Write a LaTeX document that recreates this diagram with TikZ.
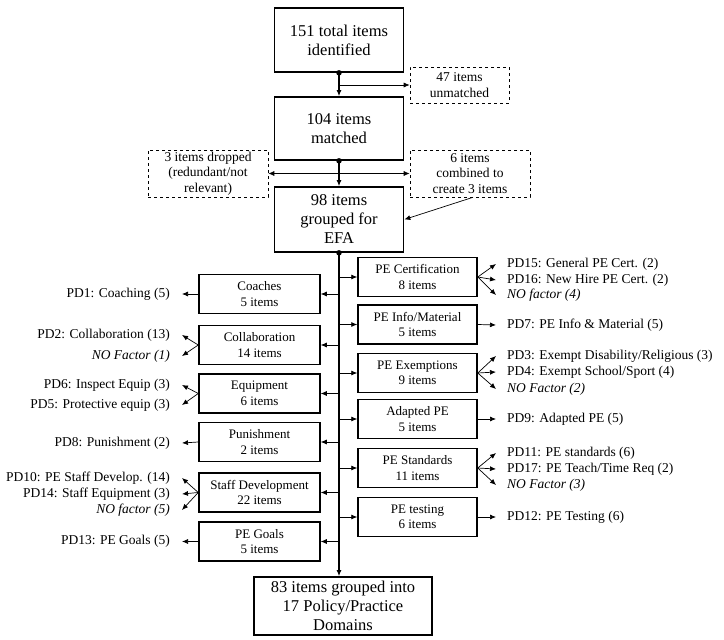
\documentclass[tikz,border=0pt]{standalone}
\usepackage{fontspec}
\setmainfont{Liberation Serif}
\usetikzlibrary{arrows.meta}
\begin{document}
\begin{tikzpicture}[x=1pt,y=-1pt,
 big/.style={draw, line width=1.6pt, minimum width=129pt, align=center, font=\fontsize{16.5}{19}\selectfont, inner sep=0pt},
 dbox/.style={draw, dashed, line width=0.6pt, align=center, font=\fontsize{13.5}{15.5}\selectfont, inner sep=0pt},
 cat/.style={draw, line width=1.5pt, minimum height=39pt, align=center, font=\fontsize{13}{15.5}\selectfont, inner sep=0pt},
 lab/.style={font=\fontsize{13.5}{15}\selectfont, inner sep=0pt},
 arr/.style={-{Latex[length=6pt,width=5pt]}, line width=0.7pt},
 thk/.style={-{Latex[length=6pt,width=5pt]}, line width=1.5pt},
 dot/.style={circle, fill, inner sep=0pt, minimum size=5.5pt}
]
\useasboundingbox (0,0) rectangle (724,640);
% main column
\node[big, minimum height=64pt] (b1) at (339,40) {151 total items\\identified};
\node[big, minimum height=63pt] (b2) at (339,128.5) {104 items\\matched};
\node[big, minimum height=65pt] (b3) at (339,219.5) {98 items\\grouped for\\EFA};
\node[big, minimum width=178pt, minimum height=58pt] (b4) at (343,606) {83 items grouped into\\17 Policy/Practice\\Domains};
% dashed boxes
\node[dbox, minimum width=99pt, minimum height=36pt] (um) at (459.5,85) {47 items\\unmatched};
\node[dbox, minimum width=120pt, minimum height=47pt] (dr) at (208,173.5) {3 items dropped\\(redundant/not\\relevant)};
\node[dbox, minimum width=120pt, minimum height=47pt] (cb) at (470,173.5) {6 items\\combined to\\create 3 items};
% main arrows
\draw[thk] (b1.south) -- (b2.north);
\draw[thk] (b2.south) -- (b3.north);
\draw[thk] (b3.south) -- (b3.south |- b4.north);
\coordinate (j1) at (339,85);
\coordinate (j2) at (339,173.5);
\draw[arr] (j1) -- (um.west);
\draw[arr] (j2) -- (dr.east);
\draw[arr] (j2) -- (cb.west);
\draw[arr] ([xshift=3pt]cb.south) -- (b3.east);
\node[dot] (d1) at (b1.south) {};
\node[dot] (d2) at (b2.south) {};
\node[dot] (d3) at (b3.south) {};
% left categories
\node[cat, minimum width=121pt] (c1) at (259.5,294) {Coaches\\5 items};
\node[cat, minimum width=121pt] (c2) at (259.5,345) {Collaboration\\14 items};
\node[cat, minimum width=121pt] (c3) at (259.5,393.5) {Equipment\\6 items};
\node[cat, minimum width=121pt] (c4) at (259.5,442) {Punishment\\2 items};
\node[cat, minimum width=121pt] (c5) at (259.5,492.5) {Staff Development\\22 items};
\node[cat, minimum width=121pt] (c6) at (259.5,541.5) {PE Goals\\5 items};
\foreach \c in {c1,c2,c3,c4,c5,c6} {\draw[arr] (\c.east -| b3.south) -- (\c.east);}
% right categories
\node[cat, minimum width=119pt] (r1) at (417.5,277) {PE Certification\\8 items};
\node[cat, minimum width=119pt] (r2) at (417.5,324.5) {PE Info/Material\\5 items};
\node[cat, minimum width=119pt] (r3) at (417.5,373) {PE Exemptions\\9 items};
\node[cat, minimum width=119pt] (r4) at (417.5,419) {Adapted PE\\5 items};
\node[cat, minimum width=119pt] (r5) at (417.5,468) {PE Standards\\11 items};
\node[cat, minimum width=119pt] (r6) at (417.5,517) {PE testing\\6 items};
\foreach \c in {r1,r2,r3,r4,r5,r6} {\draw[arr] (\c.west -| b3.south) -- (\c.west);}
% left labels
\node[lab, anchor=east] (l1) at (170,294) {PD1: Coaching (5)};
\node[lab, anchor=east] (l2a) at (170,335) {PD2: Collaboration (13)};
\node[lab, anchor=east] (l2b) at (170,356) {\itshape NO Factor (1)};
\node[lab, anchor=east] (l3a) at (170,385) {PD6: Inspect Equip (3)};
\node[lab, anchor=east] (l3b) at (170,405) {PD5: Protective equip (3)};
\node[lab, anchor=east] (l4) at (170,443) {PD8: Punishment (2)};
\node[lab, anchor=east] (l5a) at (170,478) {PD10: PE Staff Develop. (14)};
\node[lab, anchor=east] (l5b) at (170,494) {PD14: Staff Equipment (3)};
\node[lab, anchor=east] (l5c) at (170,510) {\itshape NO factor (5)};
\node[lab, anchor=east] (l6) at (170,541.5) {PD13: PE Goals (5)};
\draw[arr] (c1.west) -- ([xshift=12pt]l1.east);
\draw[arr] (c2.west) -- ([xshift=12pt]l2a.east);
\draw[arr] (c2.west) -- ([xshift=12pt]l2b.east);
\draw[arr] (c3.west) -- ([xshift=12pt]l3a.east);
\draw[arr] (c3.west) -- ([xshift=12pt]l3b.east);
\draw[arr] (c4.west) -- ([xshift=12pt]l4.east);
\draw[arr] (c5.west) -- ([xshift=12pt]l5a.east);
\draw[arr] (c5.west) -- ([xshift=12pt]l5b.east);
\draw[arr] (c5.west) -- ([xshift=12pt]l5c.east);
\draw[arr] (c6.west) -- ([xshift=12pt]l6.east);
% right labels
\node[lab, anchor=west] (q1a) at (507,264) {PD15: General PE Cert. (2)};
\node[lab, anchor=west] (q1b) at (507,280) {PD16: New Hire PE Cert. (2)};
\node[lab, anchor=west] (q1c) at (507,295) {\itshape NO factor (4)};
\node[lab, anchor=west] (q2) at (507,325) {PD7: PE Info \& Material (5)};
\node[lab, anchor=west] (q3a) at (507,356) {PD3: Exempt Disability/Religious (3)};
\node[lab, anchor=west] (q3b) at (507,372) {PD4: Exempt School/Sport (4)};
\node[lab, anchor=west] (q3c) at (507,389) {\itshape NO Factor (2)};
\node[lab, anchor=west] (q4) at (507,419) {PD9: Adapted PE (5)};
\node[lab, anchor=west] (q5a) at (507,453) {PD11: PE standards (6)};
\node[lab, anchor=west] (q5b) at (507,469) {PD17: PE Teach/Time Req (2)};
\node[lab, anchor=west] (q5c) at (507,485) {\itshape NO Factor (3)};
\node[lab, anchor=west] (q6) at (507,517) {PD12: PE Testing (6)};
\draw[arr] (r1.east) -- ([xshift=-11pt]q1a.west);
\draw[arr] (r1.east) -- ([xshift=-11pt]q1b.west);
\draw[arr] (r1.east) -- ([xshift=-11pt]q1c.west);
\draw[arr] (r2.east) -- ([xshift=-11pt]q2.west);
\draw[arr] (r3.east) -- ([xshift=-11pt]q3a.west);
\draw[arr] (r3.east) -- ([xshift=-11pt]q3b.west);
\draw[arr] (r3.east) -- ([xshift=-11pt]q3c.west);
\draw[arr] (r4.east) -- ([xshift=-11pt]q4.west);
\draw[arr] (r5.east) -- ([xshift=-11pt]q5a.west);
\draw[arr] (r5.east) -- ([xshift=-11pt]q5b.west);
\draw[arr] (r5.east) -- ([xshift=-11pt]q5c.west);
\draw[arr] (r6.east) -- ([xshift=-11pt]q6.west);
\end{tikzpicture}
\end{document}
